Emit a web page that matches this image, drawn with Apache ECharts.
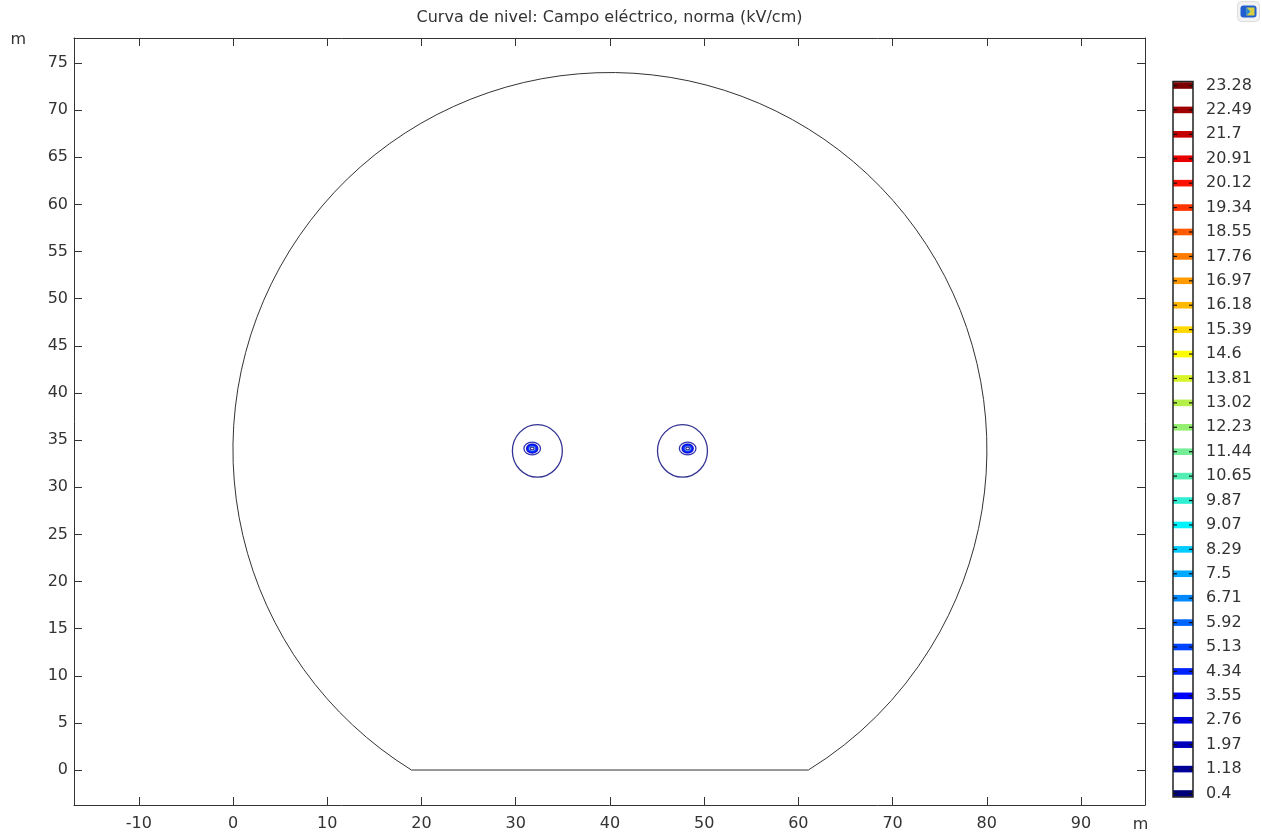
<!DOCTYPE html>
<html>
<head>
<meta charset="utf-8">
<title>Curva de nivel: Campo eléctrico</title>
<script src="https://cdn.jsdelivr.net/npm/echarts@6/dist/echarts.min.js"></script>
<style>
  html, body { margin: 0; padding: 0; background: #ffffff; }
  #chart { width: 1262px; height: 834px; }
</style>
</head>
<body>
<div id="chart"></div>
<script>
// Contour levels of |E| in kV/cm, from the bottom of the colour bar to the top
const levels = [0.4, 1.18, 1.97, 2.76, 3.55, 4.34, 5.13, 5.92, 6.71, 7.5,
                8.29, 9.07, 9.87, 10.65, 11.44, 12.23, 13.02, 13.81, 14.6, 15.39,
                16.18, 16.97, 17.76, 18.55, 19.34, 20.12, 20.91, 21.7, 22.49, 23.28];

// Rainbow palette, one colour per level
const levelColors = ['#000078', '#00009a', '#0000bc', '#0000de', '#0000ff', '#0022ff',
                     '#0044ff', '#0066ff', '#0088ff', '#00aaff', '#00ccff', '#00f4ff',
                     '#30eed2', '#52eeb4', '#74ee96', '#94ee70', '#b4ee48', '#d8f428',
                     '#ffff00', '#ffd800', '#ffb800', '#ff9a00', '#ff7c00', '#ff5a00',
                     '#ff3400', '#ff1000', '#e80000', '#c40000', '#a00000', '#7c0000'];

// Axis tick values (m)
const xTicks = [-10, 0, 10, 20, 30, 40, 50, 60, 70, 80, 90];
const yTicks = [0, 5, 10, 15, 20, 25, 30, 35, 40, 45, 50, 55, 60, 65, 70, 75];

// Domain boundary: circle (centre x, centre y, radius) cut by the ground line
const boundaryCircle = [40, 34, 40];
const groundY = 0;

// Contour rings around the two conductors:
// centre x, centre y, half-width, half-height (m) and level index
const contourX     = [32.3, 31.75, 31.75, 31.75, 31.75, 31.75, 31.75, 31.75,
                      47.7, 48.25, 48.25, 48.25, 48.25, 48.25, 48.25, 48.25];
const contourY     = [33.85, 34.1, 34.1, 34.1, 34.1, 34.1, 34.1, 34.1,
                      33.85, 34.1, 34.1, 34.1, 34.1, 34.1, 34.1, 34.1];
const contourRx    = [2.65, 0.88, 0.6, 0.54, 0.48, 0.42, 0.37, 0.2,
                      2.65, 0.88, 0.6, 0.54, 0.48, 0.42, 0.37, 0.2];
const contourRy    = [2.78, 0.68, 0.48, 0.43, 0.38, 0.33, 0.29, 0.15,
                      2.78, 0.68, 0.48, 0.43, 0.38, 0.33, 0.29, 0.15];
const contourLevel = [0, 1, 2, 3, 4, 5, 6, 0,
                      0, 1, 2, 3, 4, 5, 6, 0];

const FONT = 'DejaVu Sans';
const TEXT = '#333333';
const LINE = '#333333';

const contourData = contourX.map((x, i) =>
  [x, contourY[i], contourRx[i], contourRy[i], contourLevel[i]]);
const legendData = levels.map((v, i) => [0.5, i]);

// Main data area: equal scale on both axes (about 9.42 px per metre)
const xRange = [-16.88, 96.79];
const yRange = [-3.71, 77.65];

const chart = echarts.init(document.getElementById('chart'), null, { renderer: 'canvas' });

const frameAxis = {
  axisLine: { show: true, onZero: false, lineStyle: { color: LINE, width: 1 } },
  splitLine: { show: false }
};

chart.setOption({
  animation: false,
  backgroundColor: '#ffffff',
  title: {
    text: 'Curva de nivel: Campo eléctrico, norma (kV/cm)',
    left: 609.5,
    top: 10,
    textAlign: 'center',
    padding: 0,
    textStyle: { fontFamily: FONT, fontSize: 16, fontWeight: 'normal', color: TEXT }
  },
  grid: [
    { left: 74, top: 38, width: 1071, height: 767 },
    { left: 1173, top: 85.5, width: 20, height: 708 }
  ],
  xAxis: [
    Object.assign({}, frameAxis, {
      type: 'value', gridIndex: 0, position: 'bottom',
      min: xRange[0], max: xRange[1],
      name: 'm', nameLocation: 'end', nameGap: -4.5,
      nameTextStyle: { fontFamily: FONT, fontSize: 16, color: TEXT,
                       align: 'center', verticalAlign: 'top', padding: [12, 0, 0, 0] },
      axisTick: { show: true, inside: true, length: 8, customValues: xTicks,
                  lineStyle: { color: LINE } },
      axisLabel: { show: true, customValues: xTicks, margin: 11,
                   fontFamily: FONT, fontSize: 16, color: TEXT }
    }),
    Object.assign({}, frameAxis, {
      type: 'value', gridIndex: 0, position: 'top',
      min: xRange[0], max: xRange[1],
      axisTick: { show: true, inside: true, length: 8, customValues: xTicks,
                  lineStyle: { color: LINE } },
      axisLabel: { show: false }
    }),
    {
      type: 'value', gridIndex: 1, min: 0, max: 1, show: false
    }
  ],
  yAxis: [
    Object.assign({}, frameAxis, {
      type: 'value', gridIndex: 0, position: 'left',
      min: yRange[0], max: yRange[1],
      name: 'm', nameLocation: 'end', nameGap: -2,
      nameTextStyle: { fontFamily: FONT, fontSize: 16, color: TEXT,
                       align: 'right', verticalAlign: 'middle', padding: [0, 48, 0, 0] },
      axisTick: { show: true, inside: true, length: 8, customValues: yTicks,
                  lineStyle: { color: LINE } },
      axisLabel: { show: true, customValues: yTicks, margin: 6,
                   fontFamily: FONT, fontSize: 16, color: TEXT }
    }),
    Object.assign({}, frameAxis, {
      type: 'value', gridIndex: 0, position: 'right',
      min: yRange[0], max: yRange[1],
      axisTick: { show: true, inside: true, length: 8, customValues: yTicks,
                  lineStyle: { color: LINE } },
      axisLabel: { show: false }
    }),
    {
      type: 'value', gridIndex: 1, position: 'right',
      min: 0, max: levels.length - 1, interval: 1,
      axisLine: { show: false }, axisTick: { show: false }, splitLine: { show: false },
      axisLabel: {
        show: true, margin: 13, fontFamily: FONT, fontSize: 16, color: TEXT,
        formatter: v => String(levels[v])
      }
    }
  ],
  series: [
    {
      // geometry boundary
      type: 'custom', name: 'boundary',
      xAxisIndex: 0, yAxisIndex: 0,
      clip: false, silent: true,
      data: [[boundaryCircle[0], boundaryCircle[1], boundaryCircle[2], groundY]],
      renderItem(params, api) {
        const cx = api.value(0), cy = api.value(1), r = api.value(2), gy = api.value(3);
        const half = Math.sqrt(r * r - (cy - gy) * (cy - gy));
        const c = api.coord([cx, cy]);
        const rp = api.size([r, r]);
        const pl = api.coord([cx - half, gy]);
        const pr = api.coord([cx + half, gy]);
        const a = Math.atan2(pr[1] - c[1], pr[0] - c[0]);
        return {
          type: 'group',
          children: [
            { type: 'arc',
              shape: { cx: c[0], cy: c[1], r: (rp[0] + rp[1]) / 2,
                       startAngle: Math.PI - a, endAngle: 2 * Math.PI + a, clockwise: true },
              style: { stroke: LINE, fill: 'none', lineWidth: 1 } },
            { type: 'line',
              shape: { x1: pl[0], y1: pl[1], x2: pr[0], y2: pr[1] },
              style: { stroke: LINE, lineWidth: 1 } }
          ]
        };
      }
    },
    {
      // |E| contour rings
      type: 'custom', name: 'contours',
      xAxisIndex: 0, yAxisIndex: 0,
      silent: true,
      data: contourData,
      renderItem(params, api) {
        const c = api.coord([api.value(0), api.value(1)]);
        const s = api.size([api.value(2), api.value(3)]);
        return {
          type: 'ellipse',
          shape: { cx: c[0], cy: c[1], rx: s[0], ry: s[1] },
          style: { fill: 'none', stroke: levelColors[api.value(4)], lineWidth: 1.3, opacity: 0.8 }
        };
      }
    },
    {
      // colour bar bands with tick marks
      type: 'custom', name: 'legendBands',
      xAxisIndex: 2, yAxisIndex: 2,
      clip: false, silent: true,
      data: legendData,
      renderItem(params, api) {
        const i = api.value(1);
        const p0 = api.coord([0, i]);
        const p1 = api.coord([1, i]);
        return {
          type: 'group',
          children: [
            { type: 'rect',
              shape: { x: p0[0], y: p0[1] - 3.3, width: p1[0] - p0[0], height: 6.6 },
              style: { fill: levelColors[i] } },
            { type: 'line',
              shape: { x1: p0[0], y1: p0[1], x2: p0[0] + 4, y2: p0[1] },
              style: { stroke: '#111111', lineWidth: 1.2 } },
            { type: 'line',
              shape: { x1: p1[0] - 4, y1: p1[1], x2: p1[0], y2: p1[1] },
              style: { stroke: '#111111', lineWidth: 1.2 } }
          ]
        };
      }
    },
    {
      // colour bar frame
      type: 'custom', name: 'legendFrame',
      xAxisIndex: 2, yAxisIndex: 2,
      clip: false, silent: true, z: 5,
      data: [[0, 0]],
      renderItem(params, api) {
        const bl = api.coord([0, 0]);
        const tr = api.coord([1, levels.length - 1]);
        return {
          type: 'rect',
          shape: { x: bl[0], y: tr[1] - 4, width: tr[0] - bl[0], height: bl[1] - tr[1] + 7.5 },
          style: { fill: 'none', stroke: '#222222', lineWidth: 1.5 }
        };
      }
    }
  ],
  graphic: [
    {
      type: 'group', left: 1237, top: 1,
      children: [
        { type: 'rect', shape: { x: 0, y: 0, width: 22, height: 20, r: 4 },
          style: { fill: '#f2f2f2', stroke: '#dddddd', lineWidth: 1 } },
        { type: 'rect', shape: { x: 3, y: 4, width: 16, height: 12, r: 3 },
          style: { fill: '#1f5fd0' } },
        { type: 'polygon', shape: { points: [[9, 6], [17, 6], [17, 14], [9, 14]] },
          style: { fill: '#d8d040' } },
        { type: 'polygon', shape: { points: [[9, 6], [13, 10], [9, 14]] },
          style: { fill: '#2a8ae0' } }
      ]
    }
  ]
});
</script>
</body>
</html>
